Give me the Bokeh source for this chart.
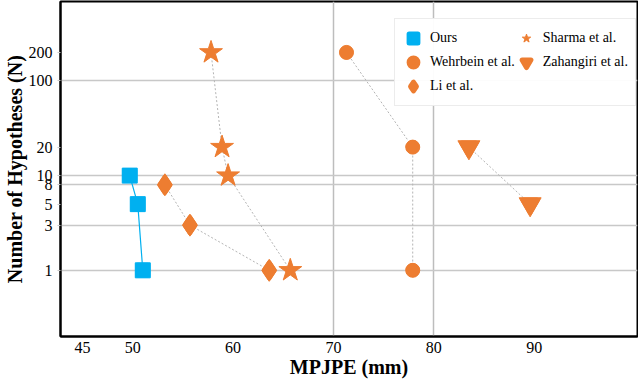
from bokeh.plotting import figure
from bokeh.models import Range1d, FixedTicker, Legend, LegendItem, Grid
from bokeh.embed import file_html
from bokeh.resources import INLINE

# data
ours_x = [49.7, 50.5, 51.0]
ours_y = [10, 5, 1]
wehr_x = [71.3, 77.9, 77.9]
wehr_y = [200, 20, 1]
li_x = [53.2, 55.7, 63.6]
li_y = [8, 3, 1]
sharma_x = [57.8, 58.9, 59.5, 65.7]
sharma_y = [200, 20, 10, 1]
zah_x = [83.5, 89.6]
zah_y = [20, 5]

x_ticks = [45, 50, 60, 70, 80, 90]
x_grid = [70, 80]
y_ticks = [1, 3, 5, 8, 10, 20, 100, 200]
y_grid = [1, 3, 8, 10, 100]

BLUE = "#00B0F0"
ORANGE = "#ED7D31"
GRAY = "#B4B4B4"
FONT = "'Liberation Serif', 'Times New Roman', serif"

p = figure(width=638, height=380, y_axis_type="log",
           x_range=Range1d(42.8, 100.3), y_range=Range1d(0.2, 690),
           output_backend="svg", toolbar_location=None,
           min_border_top=1, min_border_right=1, min_border_left=0, min_border_bottom=0)

p.outline_line_color = "black"
p.outline_line_width = 2
p.outline_line_alpha = 1

p.xgrid.visible = False
p.ygrid.visible = False
p.add_layout(Grid(dimension=0, ticker=FixedTicker(ticks=x_grid), grid_line_color="#BDBDBD", grid_line_width=1.5))
p.add_layout(Grid(dimension=1, ticker=FixedTicker(ticks=y_grid), grid_line_color="#C8C8C8", grid_line_width=1.5))

p.xaxis.ticker = FixedTicker(ticks=x_ticks)
p.yaxis.ticker = FixedTicker(ticks=y_ticks, minor_ticks=[])
p.axis.minor_tick_line_color = None
p.axis.minor_tick_out = 0
p.axis.minor_tick_in = 0
p.xaxis.major_tick_line_color = None
p.xaxis.major_tick_out = 0
p.xaxis.major_tick_in = 0
p.yaxis.major_tick_in = 0
p.yaxis.major_tick_out = 3
p.yaxis.major_tick_line_color = "#C8C8C8"
p.yaxis.major_label_overrides = {v: str(v) for v in y_ticks}
p.axis.axis_line_color = "black"
p.axis.axis_line_width = 2
p.axis.major_label_text_font = FONT
p.axis.major_label_text_font_size = "16px"
p.axis.major_label_text_color = "black"
p.axis.axis_label_text_font = FONT
p.axis.axis_label_text_font_size = "20px"
p.axis.axis_label_text_font_style = "bold"
p.axis.axis_label_text_color = "black"
p.xaxis.major_label_standoff = 5
p.yaxis.major_label_standoff = 5
p.xaxis.axis_label = "MPJPE (mm)"
p.yaxis.axis_label = "Number of Hypotheses (N)"
p.xaxis.axis_label_standoff = 0
p.yaxis.axis_label_standoff = 0

# connecting lines
p.line(ours_x, ours_y, line_color=BLUE, line_width=1.2)
p.line(wehr_x, wehr_y, line_color=GRAY, line_width=1, line_dash="2 2")
p.line(li_x, li_y, line_color=GRAY, line_width=1, line_dash="2 2")
p.line(sharma_x, sharma_y, line_color=GRAY, line_width=1, line_dash="2 2")
p.line(zah_x, zah_y, line_color=GRAY, line_width=1, line_dash="2 2")

# legend proxies: drawn first (hidden under the real markers) with a thick
# outline, so that the legend symbols appear larger
def proxy(xs, ys, marker, size, color, lw):
    return p.scatter(xs, ys, marker=marker, size=size, fill_color=color,
                     line_color=color, line_width=lw, line_join="round")

l_ours = proxy(ours_x, ours_y, "square", 10, BLUE, 5)
l_wehr = proxy(wehr_x, wehr_y, "circle", 9, ORANGE, 5)
l_li = proxy(li_x, li_y, "diamond", 15, ORANGE, 5)
l_sh = proxy(sharma_x, sharma_y, "star", 18, ORANGE, 1)
l_zah = proxy(zah_x, zah_y, "inverted_triangle", 14, ORANGE, 5)

p.scatter(ours_x, ours_y, marker="square", size=15, color=BLUE)
p.scatter(wehr_x, wehr_y, marker="circle", size=14, color=ORANGE)
p.scatter(li_x, li_y, marker="diamond", size=22, color=ORANGE)
p.scatter(sharma_x, sharma_y, marker="star", size=24, color=ORANGE)
p.scatter(zah_x, zah_y, marker="inverted_triangle", size=22, color=ORANGE)

legend = Legend(items=[
    LegendItem(label="Ours", renderers=[l_ours]),
    LegendItem(label="Wehrbein et al.", renderers=[l_wehr]),
    LegendItem(label="Li et al.", renderers=[l_li]),
    LegendItem(label="Sharma et al.", renderers=[l_sh]),
    LegendItem(label="Zahangiri et al.", renderers=[l_zah]),
], location=(334, 230), nrows=3)
legend.label_text_font = FONT
legend.label_text_font_size = "14px"
legend.label_text_color = "black"
legend.border_line_color = "#D9D9D9"
legend.border_line_width = 1.5
legend.glyph_width = 22
legend.glyph_height = 24
legend.spacing = 0
legend.padding = 7
legend.margin = 0
legend.label_standoff = 6
p.add_layout(legend)

open("out.html", "w").write(file_html(p, INLINE))
